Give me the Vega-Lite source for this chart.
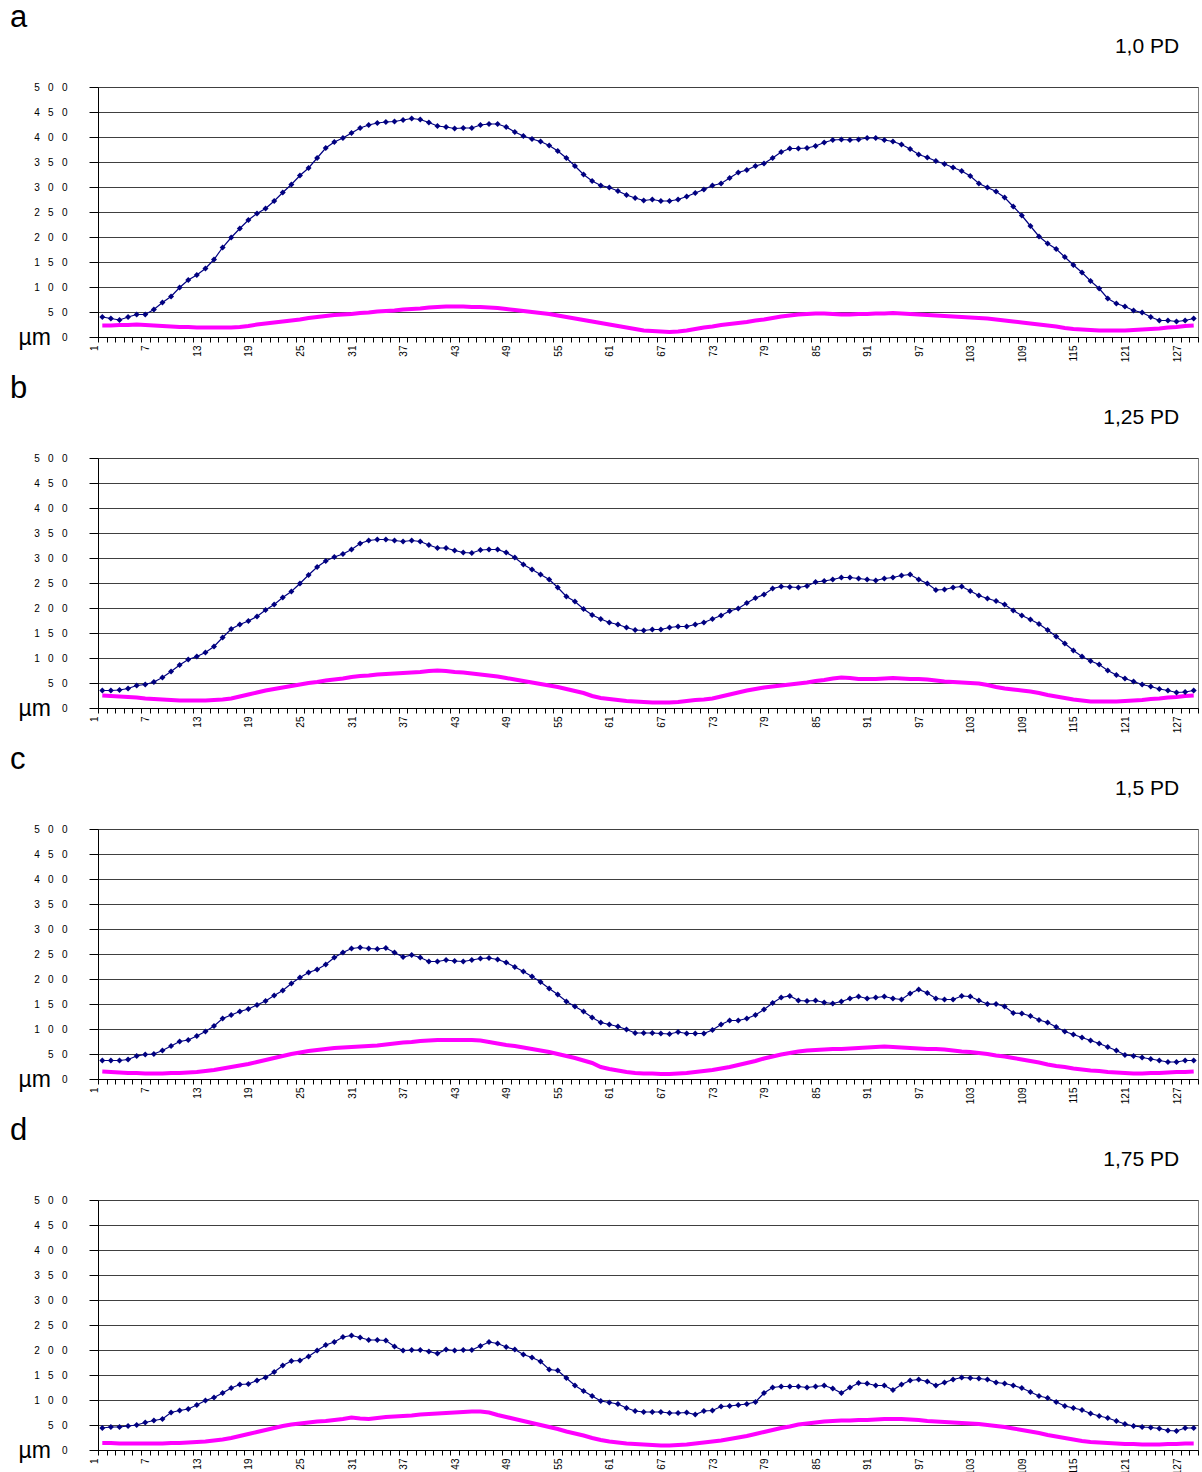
{
"$schema":"https://vega.github.io/schema/vega-lite/v6.json",
"padding":{"left":9,"top":1,"right":5,"bottom":0},
"spacing":9,
"config":{"font":"Liberation Sans","view":{"stroke":"#808080"},
"title":{"fontSize":31,"fontWeight":"normal","anchor":"start","frame":"bounds","dx":-8,"offset":2,"color":"#000"},
"axisX":{"title":null,"labelAngle":270,"labelExpr":"(datum.value - 1) % 6 == 0 ? datum.label : ''","labelOverlap":false,"labelFontSize":10,"labelPadding":3,"labelOffset":-8,"tickSize":5,"tickBand":"extent","tickColor":"#000","domainColor":"#000","labelColor":"#000","grid":false},
"axisY":{"titleAngle":0,"titleFontSize":23,"titleFontWeight":"normal","titleColor":"#000","titleAlign":"left","titleBaseline":"alphabetic","titleX":-80,"titleY":257,"labelExpr":"join(split(datum.label,''),'\u00a0\u00a0\u00a0')","labelFontSize":10,"labelPadding":22,"tickSize":9,"grid":true,"gridColor":"#404040","gridOpacity":1,"tickColor":"#000","domainColor":"#000","labelColor":"#000","labelOverlap":false}},
"datasets":{
"a":[{"i":1,"b":40,"m":23},{"i":2,"b":37,"m":23},{"i":3,"b":34,"m":24},{"i":4,"b":40,"m":24},{"i":5,"b":45,"m":25},{"i":6,"b":45,"m":24},{"i":7,"b":55,"m":23},{"i":8,"b":69,"m":22},{"i":9,"b":81,"m":21},{"i":10,"b":99,"m":20},{"i":11,"b":114,"m":20},{"i":12,"b":124,"m":19},{"i":13,"b":137,"m":19},{"i":14,"b":155,"m":19},{"i":15,"b":179,"m":19},{"i":16,"b":199,"m":19},{"i":17,"b":217,"m":20},{"i":18,"b":234,"m":22},{"i":19,"b":247,"m":25},{"i":20,"b":257,"m":27},{"i":21,"b":272,"m":29},{"i":22,"b":289,"m":31},{"i":23,"b":305,"m":33},{"i":24,"b":323,"m":35},{"i":25,"b":338,"m":38},{"i":26,"b":358,"m":40},{"i":27,"b":378,"m":42},{"i":28,"b":390,"m":44},{"i":29,"b":398,"m":45},{"i":30,"b":408,"m":46},{"i":31,"b":418,"m":48},{"i":32,"b":424,"m":49},{"i":33,"b":428,"m":51},{"i":34,"b":430,"m":52},{"i":35,"b":431,"m":53},{"i":36,"b":434,"m":55},{"i":37,"b":437,"m":56},{"i":38,"b":435,"m":57},{"i":39,"b":429,"m":59},{"i":40,"b":422,"m":60},{"i":41,"b":420,"m":61},{"i":42,"b":417,"m":61},{"i":43,"b":418,"m":61},{"i":44,"b":418,"m":60},{"i":45,"b":424,"m":60},{"i":46,"b":426,"m":59},{"i":47,"b":426,"m":58},{"i":48,"b":420,"m":56},{"i":49,"b":410,"m":54},{"i":50,"b":402,"m":52},{"i":51,"b":396,"m":50},{"i":52,"b":391,"m":48},{"i":53,"b":383,"m":46},{"i":54,"b":372,"m":43},{"i":55,"b":358,"m":40},{"i":56,"b":342,"m":37},{"i":57,"b":325,"m":34},{"i":58,"b":312,"m":31},{"i":59,"b":303,"m":28},{"i":60,"b":299,"m":25},{"i":61,"b":292,"m":22},{"i":62,"b":284,"m":19},{"i":63,"b":278,"m":16},{"i":64,"b":273,"m":13},{"i":65,"b":275,"m":12},{"i":66,"b":272,"m":11},{"i":67,"b":272,"m":10},{"i":68,"b":275,"m":11},{"i":69,"b":281,"m":13},{"i":70,"b":288,"m":16},{"i":71,"b":295,"m":19},{"i":72,"b":303,"m":21},{"i":73,"b":307,"m":24},{"i":74,"b":318,"m":26},{"i":75,"b":329,"m":28},{"i":76,"b":334,"m":30},{"i":77,"b":342,"m":33},{"i":78,"b":347,"m":35},{"i":79,"b":358,"m":38},{"i":80,"b":370,"m":41},{"i":81,"b":377,"m":43},{"i":82,"b":377,"m":45},{"i":83,"b":378,"m":46},{"i":84,"b":382,"m":47},{"i":85,"b":389,"m":47},{"i":86,"b":394,"m":46},{"i":87,"b":395,"m":45},{"i":88,"b":394,"m":45},{"i":89,"b":395,"m":46},{"i":90,"b":398,"m":46},{"i":91,"b":398,"m":47},{"i":92,"b":394,"m":47},{"i":93,"b":391,"m":48},{"i":94,"b":385,"m":47},{"i":95,"b":376,"m":46},{"i":96,"b":365,"m":45},{"i":97,"b":359,"m":44},{"i":98,"b":352,"m":43},{"i":99,"b":346,"m":42},{"i":100,"b":339,"m":41},{"i":101,"b":332,"m":40},{"i":102,"b":322,"m":39},{"i":103,"b":307,"m":38},{"i":104,"b":299,"m":37},{"i":105,"b":291,"m":35},{"i":106,"b":279,"m":33},{"i":107,"b":261,"m":31},{"i":108,"b":243,"m":29},{"i":109,"b":222,"m":27},{"i":110,"b":201,"m":25},{"i":111,"b":187,"m":23},{"i":112,"b":176,"m":21},{"i":113,"b":160,"m":18},{"i":114,"b":144,"m":16},{"i":115,"b":129,"m":15},{"i":116,"b":112,"m":14},{"i":117,"b":97,"m":13},{"i":118,"b":77,"m":13},{"i":119,"b":67,"m":13},{"i":120,"b":61,"m":13},{"i":121,"b":53,"m":14},{"i":122,"b":49,"m":15},{"i":123,"b":40,"m":16},{"i":124,"b":33,"m":17},{"i":125,"b":33,"m":19},{"i":126,"b":31,"m":20},{"i":127,"b":33,"m":22},{"i":128,"b":37,"m":23}],
"b":[{"i":1,"b":35,"m":25},{"i":2,"b":35,"m":24},{"i":3,"b":36,"m":23},{"i":4,"b":39,"m":22},{"i":5,"b":45,"m":21},{"i":6,"b":47,"m":19},{"i":7,"b":52,"m":18},{"i":8,"b":61,"m":17},{"i":9,"b":73,"m":16},{"i":10,"b":86,"m":15},{"i":11,"b":97,"m":15},{"i":12,"b":103,"m":15},{"i":13,"b":111,"m":15},{"i":14,"b":123,"m":16},{"i":15,"b":141,"m":17},{"i":16,"b":158,"m":19},{"i":17,"b":167,"m":23},{"i":18,"b":174,"m":27},{"i":19,"b":183,"m":31},{"i":20,"b":196,"m":35},{"i":21,"b":207,"m":38},{"i":22,"b":221,"m":41},{"i":23,"b":233,"m":44},{"i":24,"b":249,"m":47},{"i":25,"b":266,"m":50},{"i":26,"b":282,"m":52},{"i":27,"b":294,"m":55},{"i":28,"b":302,"m":57},{"i":29,"b":308,"m":59},{"i":30,"b":317,"m":62},{"i":31,"b":329,"m":64},{"i":32,"b":335,"m":65},{"i":33,"b":337,"m":67},{"i":34,"b":337,"m":68},{"i":35,"b":335,"m":69},{"i":36,"b":333,"m":70},{"i":37,"b":335,"m":71},{"i":38,"b":333,"m":72},{"i":39,"b":326,"m":74},{"i":40,"b":320,"m":75},{"i":41,"b":320,"m":74},{"i":42,"b":315,"m":72},{"i":43,"b":311,"m":71},{"i":44,"b":310,"m":69},{"i":45,"b":316,"m":67},{"i":46,"b":317,"m":65},{"i":47,"b":317,"m":63},{"i":48,"b":311,"m":60},{"i":49,"b":301,"m":57},{"i":50,"b":287,"m":54},{"i":51,"b":277,"m":51},{"i":52,"b":267,"m":48},{"i":53,"b":257,"m":45},{"i":54,"b":241,"m":42},{"i":55,"b":223,"m":38},{"i":56,"b":213,"m":34},{"i":57,"b":198,"m":30},{"i":58,"b":186,"m":24},{"i":59,"b":178,"m":20},{"i":60,"b":171,"m":18},{"i":61,"b":167,"m":16},{"i":62,"b":161,"m":14},{"i":63,"b":156,"m":13},{"i":64,"b":155,"m":12},{"i":65,"b":157,"m":11},{"i":66,"b":157,"m":11},{"i":67,"b":161,"m":11},{"i":68,"b":163,"m":12},{"i":69,"b":163,"m":14},{"i":70,"b":167,"m":16},{"i":71,"b":171,"m":17},{"i":72,"b":178,"m":19},{"i":73,"b":185,"m":23},{"i":74,"b":194,"m":27},{"i":75,"b":199,"m":31},{"i":76,"b":210,"m":35},{"i":77,"b":220,"m":38},{"i":78,"b":227,"m":41},{"i":79,"b":239,"m":43},{"i":80,"b":243,"m":45},{"i":81,"b":242,"m":47},{"i":82,"b":241,"m":49},{"i":83,"b":244,"m":51},{"i":84,"b":252,"m":54},{"i":85,"b":254,"m":56},{"i":86,"b":257,"m":59},{"i":87,"b":261,"m":61},{"i":88,"b":261,"m":60},{"i":89,"b":259,"m":58},{"i":90,"b":257,"m":58},{"i":91,"b":255,"m":58},{"i":92,"b":259,"m":59},{"i":93,"b":261,"m":60},{"i":94,"b":265,"m":59},{"i":95,"b":267,"m":58},{"i":96,"b":257,"m":58},{"i":97,"b":249,"m":57},{"i":98,"b":236,"m":55},{"i":99,"b":237,"m":53},{"i":100,"b":241,"m":52},{"i":101,"b":243,"m":51},{"i":102,"b":234,"m":50},{"i":103,"b":225,"m":49},{"i":104,"b":219,"m":46},{"i":105,"b":214,"m":42},{"i":106,"b":207,"m":39},{"i":107,"b":195,"m":37},{"i":108,"b":185,"m":35},{"i":109,"b":177,"m":33},{"i":110,"b":168,"m":30},{"i":111,"b":156,"m":26},{"i":112,"b":143,"m":23},{"i":113,"b":129,"m":20},{"i":114,"b":115,"m":17},{"i":115,"b":103,"m":15},{"i":116,"b":94,"m":13},{"i":117,"b":87,"m":13},{"i":118,"b":75,"m":13},{"i":119,"b":66,"m":13},{"i":120,"b":59,"m":14},{"i":121,"b":53,"m":15},{"i":122,"b":47,"m":16},{"i":123,"b":43,"m":18},{"i":124,"b":38,"m":19},{"i":125,"b":35,"m":21},{"i":126,"b":31,"m":22},{"i":127,"b":32,"m":24},{"i":128,"b":35,"m":25}],
"c":[{"i":1,"b":37,"m":15},{"i":2,"b":37,"m":14},{"i":3,"b":37,"m":13},{"i":4,"b":39,"m":12},{"i":5,"b":46,"m":12},{"i":6,"b":49,"m":11},{"i":7,"b":50,"m":11},{"i":8,"b":57,"m":11},{"i":9,"b":66,"m":12},{"i":10,"b":75,"m":12},{"i":11,"b":78,"m":13},{"i":12,"b":86,"m":14},{"i":13,"b":95,"m":16},{"i":14,"b":106,"m":18},{"i":15,"b":121,"m":21},{"i":16,"b":128,"m":24},{"i":17,"b":135,"m":27},{"i":18,"b":140,"m":30},{"i":19,"b":148,"m":34},{"i":20,"b":156,"m":38},{"i":21,"b":167,"m":42},{"i":22,"b":177,"m":46},{"i":23,"b":191,"m":50},{"i":24,"b":203,"m":53},{"i":25,"b":213,"m":56},{"i":26,"b":219,"m":58},{"i":27,"b":229,"m":60},{"i":28,"b":243,"m":62},{"i":29,"b":253,"m":63},{"i":30,"b":261,"m":64},{"i":31,"b":263,"m":65},{"i":32,"b":261,"m":66},{"i":33,"b":260,"m":67},{"i":34,"b":262,"m":69},{"i":35,"b":253,"m":71},{"i":36,"b":244,"m":73},{"i":37,"b":248,"m":74},{"i":38,"b":243,"m":76},{"i":39,"b":235,"m":77},{"i":40,"b":235,"m":78},{"i":41,"b":238,"m":78},{"i":42,"b":236,"m":78},{"i":43,"b":235,"m":78},{"i":44,"b":238,"m":78},{"i":45,"b":241,"m":77},{"i":46,"b":242,"m":74},{"i":47,"b":239,"m":71},{"i":48,"b":233,"m":68},{"i":49,"b":224,"m":66},{"i":50,"b":215,"m":63},{"i":51,"b":205,"m":60},{"i":52,"b":194,"m":57},{"i":53,"b":181,"m":54},{"i":54,"b":169,"m":50},{"i":55,"b":155,"m":46},{"i":56,"b":145,"m":42},{"i":57,"b":135,"m":37},{"i":58,"b":123,"m":32},{"i":59,"b":113,"m":24},{"i":60,"b":109,"m":20},{"i":61,"b":105,"m":17},{"i":62,"b":99,"m":14},{"i":63,"b":92,"m":12},{"i":64,"b":92,"m":11},{"i":65,"b":92,"m":11},{"i":66,"b":91,"m":10},{"i":67,"b":90,"m":10},{"i":68,"b":94,"m":11},{"i":69,"b":91,"m":12},{"i":70,"b":91,"m":14},{"i":71,"b":91,"m":16},{"i":72,"b":98,"m":18},{"i":73,"b":109,"m":21},{"i":74,"b":117,"m":24},{"i":75,"b":117,"m":28},{"i":76,"b":121,"m":32},{"i":77,"b":128,"m":36},{"i":78,"b":139,"m":41},{"i":79,"b":152,"m":45},{"i":80,"b":163,"m":49},{"i":81,"b":166,"m":52},{"i":82,"b":157,"m":55},{"i":83,"b":156,"m":57},{"i":84,"b":157,"m":58},{"i":85,"b":153,"m":59},{"i":86,"b":151,"m":60},{"i":87,"b":155,"m":60},{"i":88,"b":161,"m":61},{"i":89,"b":165,"m":62},{"i":90,"b":161,"m":63},{"i":91,"b":163,"m":64},{"i":92,"b":165,"m":65},{"i":93,"b":161,"m":64},{"i":94,"b":159,"m":63},{"i":95,"b":171,"m":62},{"i":96,"b":179,"m":61},{"i":97,"b":172,"m":60},{"i":98,"b":161,"m":60},{"i":99,"b":159,"m":59},{"i":100,"b":159,"m":57},{"i":101,"b":166,"m":55},{"i":102,"b":165,"m":54},{"i":103,"b":157,"m":52},{"i":104,"b":150,"m":50},{"i":105,"b":150,"m":47},{"i":106,"b":145,"m":45},{"i":107,"b":132,"m":42},{"i":108,"b":131,"m":39},{"i":109,"b":126,"m":36},{"i":110,"b":118,"m":33},{"i":111,"b":113,"m":29},{"i":112,"b":104,"m":26},{"i":113,"b":95,"m":24},{"i":114,"b":89,"m":21},{"i":115,"b":83,"m":19},{"i":116,"b":77,"m":17},{"i":117,"b":71,"m":16},{"i":118,"b":64,"m":14},{"i":119,"b":57,"m":13},{"i":120,"b":48,"m":12},{"i":121,"b":46,"m":11},{"i":122,"b":43,"m":11},{"i":123,"b":40,"m":12},{"i":124,"b":37,"m":12},{"i":125,"b":34,"m":13},{"i":126,"b":34,"m":14},{"i":127,"b":37,"m":14},{"i":128,"b":37,"m":15}],
"d":[{"i":1,"b":44,"m":14},{"i":2,"b":46,"m":14},{"i":3,"b":46,"m":13},{"i":4,"b":48,"m":13},{"i":5,"b":50,"m":13},{"i":6,"b":55,"m":13},{"i":7,"b":59,"m":13},{"i":8,"b":62,"m":13},{"i":9,"b":75,"m":14},{"i":10,"b":79,"m":14},{"i":11,"b":82,"m":15},{"i":12,"b":90,"m":16},{"i":13,"b":99,"m":17},{"i":14,"b":105,"m":19},{"i":15,"b":114,"m":21},{"i":16,"b":124,"m":24},{"i":17,"b":131,"m":28},{"i":18,"b":132,"m":32},{"i":19,"b":139,"m":36},{"i":20,"b":145,"m":40},{"i":21,"b":156,"m":44},{"i":22,"b":169,"m":48},{"i":23,"b":178,"m":51},{"i":24,"b":179,"m":53},{"i":25,"b":187,"m":55},{"i":26,"b":199,"m":57},{"i":27,"b":210,"m":58},{"i":28,"b":216,"m":60},{"i":29,"b":226,"m":62},{"i":30,"b":229,"m":65},{"i":31,"b":225,"m":63},{"i":32,"b":220,"m":62},{"i":33,"b":220,"m":64},{"i":34,"b":219,"m":66},{"i":35,"b":207,"m":67},{"i":36,"b":199,"m":68},{"i":37,"b":200,"m":69},{"i":38,"b":200,"m":71},{"i":39,"b":197,"m":72},{"i":40,"b":193,"m":73},{"i":41,"b":201,"m":74},{"i":42,"b":199,"m":75},{"i":43,"b":200,"m":76},{"i":44,"b":200,"m":77},{"i":45,"b":208,"m":77},{"i":46,"b":216,"m":75},{"i":47,"b":213,"m":70},{"i":48,"b":206,"m":66},{"i":49,"b":201,"m":62},{"i":50,"b":191,"m":58},{"i":51,"b":185,"m":54},{"i":52,"b":177,"m":50},{"i":53,"b":161,"m":46},{"i":54,"b":159,"m":42},{"i":55,"b":144,"m":37},{"i":56,"b":129,"m":33},{"i":57,"b":118,"m":29},{"i":58,"b":108,"m":24},{"i":59,"b":98,"m":20},{"i":60,"b":95,"m":17},{"i":61,"b":92,"m":15},{"i":62,"b":84,"m":13},{"i":63,"b":78,"m":12},{"i":64,"b":76,"m":11},{"i":65,"b":76,"m":10},{"i":66,"b":76,"m":9},{"i":67,"b":74,"m":9},{"i":68,"b":74,"m":10},{"i":69,"b":75,"m":11},{"i":70,"b":71,"m":13},{"i":71,"b":78,"m":15},{"i":72,"b":79,"m":17},{"i":73,"b":87,"m":19},{"i":74,"b":88,"m":22},{"i":75,"b":90,"m":25},{"i":76,"b":92,"m":28},{"i":77,"b":96,"m":32},{"i":78,"b":114,"m":36},{"i":79,"b":125,"m":40},{"i":80,"b":127,"m":44},{"i":81,"b":127,"m":47},{"i":82,"b":127,"m":51},{"i":83,"b":125,"m":53},{"i":84,"b":127,"m":55},{"i":85,"b":129,"m":57},{"i":86,"b":123,"m":58},{"i":87,"b":114,"m":59},{"i":88,"b":125,"m":59},{"i":89,"b":134,"m":60},{"i":90,"b":133,"m":60},{"i":91,"b":129,"m":61},{"i":92,"b":129,"m":62},{"i":93,"b":120,"m":62},{"i":94,"b":131,"m":62},{"i":95,"b":139,"m":61},{"i":96,"b":141,"m":60},{"i":97,"b":137,"m":58},{"i":98,"b":129,"m":57},{"i":99,"b":135,"m":56},{"i":100,"b":141,"m":55},{"i":101,"b":145,"m":54},{"i":102,"b":144,"m":53},{"i":103,"b":143,"m":52},{"i":104,"b":141,"m":50},{"i":105,"b":135,"m":48},{"i":106,"b":133,"m":46},{"i":107,"b":129,"m":43},{"i":108,"b":124,"m":40},{"i":109,"b":116,"m":37},{"i":110,"b":108,"m":34},{"i":111,"b":104,"m":30},{"i":112,"b":96,"m":27},{"i":113,"b":88,"m":24},{"i":114,"b":84,"m":21},{"i":115,"b":80,"m":18},{"i":116,"b":73,"m":16},{"i":117,"b":68,"m":15},{"i":118,"b":64,"m":14},{"i":119,"b":58,"m":13},{"i":120,"b":52,"m":12},{"i":121,"b":48,"m":12},{"i":122,"b":46,"m":11},{"i":123,"b":45,"m":11},{"i":124,"b":43,"m":11},{"i":125,"b":39,"m":12},{"i":126,"b":38,"m":12},{"i":127,"b":44,"m":13},{"i":128,"b":44,"m":13}]
},
"vconcat":[
{"title":{"text":"a"},"width":1100,"height":250,"layer":[
{"data":{"name":"a"},"mark":{"type":"line","color":"#FF00FF","strokeWidth":4},"encoding":{"x":{"field":"i","type":"ordinal","scale":{"type":"band","paddingInner":0,"paddingOuter":0}},"y":{"field":"m","type":"quantitative","scale":{"domain":[0,500],"nice":false},"axis":{"title":"µm","values":[0,50,100,150,200,250,300,350,400,450,500]}}}},
{"data":{"name":"a"},"mark":{"type":"line","color":"#000080","strokeWidth":1.2,"point":{"shape":"diamond","filled":true,"size":36,"color":"#000080"}},"encoding":{"x":{"field":"i","type":"ordinal"},"y":{"field":"b","type":"quantitative","axis":{"title":"µm","values":[0,50,100,150,200,250,300,350,400,450,500]}}}},
{"data":{"values":[{"t":"1,0 PD"}]},"mark":{"type":"text","align":"right","baseline":"alphabetic","fontSize":21,"dx":-6,"color":"#000"},"encoding":{"x":{"datum":127,"type":"ordinal"},"y":{"datum":568,"type":"quantitative","axis":{"title":"µm","values":[0,50,100,150,200,250,300,350,400,450,500]}},"text":{"field":"t"}}}
]},
{"title":{"text":"b"},"width":1100,"height":250,"layer":[
{"data":{"name":"b"},"mark":{"type":"line","color":"#FF00FF","strokeWidth":4},"encoding":{"x":{"field":"i","type":"ordinal","scale":{"type":"band","paddingInner":0,"paddingOuter":0}},"y":{"field":"m","type":"quantitative","scale":{"domain":[0,500],"nice":false},"axis":{"title":"µm","values":[0,50,100,150,200,250,300,350,400,450,500]}}}},
{"data":{"name":"b"},"mark":{"type":"line","color":"#000080","strokeWidth":1.2,"point":{"shape":"diamond","filled":true,"size":36,"color":"#000080"}},"encoding":{"x":{"field":"i","type":"ordinal"},"y":{"field":"b","type":"quantitative","axis":{"title":"µm","values":[0,50,100,150,200,250,300,350,400,450,500]}}}},
{"data":{"values":[{"t":"1,25 PD"}]},"mark":{"type":"text","align":"right","baseline":"alphabetic","fontSize":21,"dx":-6,"color":"#000"},"encoding":{"x":{"datum":127,"type":"ordinal"},"y":{"datum":568,"type":"quantitative","axis":{"title":"µm","values":[0,50,100,150,200,250,300,350,400,450,500]}},"text":{"field":"t"}}}
]},
{"title":{"text":"c"},"width":1100,"height":250,"layer":[
{"data":{"name":"c"},"mark":{"type":"line","color":"#FF00FF","strokeWidth":4},"encoding":{"x":{"field":"i","type":"ordinal","scale":{"type":"band","paddingInner":0,"paddingOuter":0}},"y":{"field":"m","type":"quantitative","scale":{"domain":[0,500],"nice":false},"axis":{"title":"µm","values":[0,50,100,150,200,250,300,350,400,450,500]}}}},
{"data":{"name":"c"},"mark":{"type":"line","color":"#000080","strokeWidth":1.2,"point":{"shape":"diamond","filled":true,"size":36,"color":"#000080"}},"encoding":{"x":{"field":"i","type":"ordinal"},"y":{"field":"b","type":"quantitative","axis":{"title":"µm","values":[0,50,100,150,200,250,300,350,400,450,500]}}}},
{"data":{"values":[{"t":"1,5 PD"}]},"mark":{"type":"text","align":"right","baseline":"alphabetic","fontSize":21,"dx":-6,"color":"#000"},"encoding":{"x":{"datum":127,"type":"ordinal"},"y":{"datum":568,"type":"quantitative","axis":{"title":"µm","values":[0,50,100,150,200,250,300,350,400,450,500]}},"text":{"field":"t"}}}
]},
{"title":{"text":"d"},"width":1100,"height":250,"layer":[
{"data":{"name":"d"},"mark":{"type":"line","color":"#FF00FF","strokeWidth":4},"encoding":{"x":{"field":"i","type":"ordinal","scale":{"type":"band","paddingInner":0,"paddingOuter":0}},"y":{"field":"m","type":"quantitative","scale":{"domain":[0,500],"nice":false},"axis":{"title":"µm","values":[0,50,100,150,200,250,300,350,400,450,500]}}}},
{"data":{"name":"d"},"mark":{"type":"line","color":"#000080","strokeWidth":1.2,"point":{"shape":"diamond","filled":true,"size":36,"color":"#000080"}},"encoding":{"x":{"field":"i","type":"ordinal"},"y":{"field":"b","type":"quantitative","axis":{"title":"µm","values":[0,50,100,150,200,250,300,350,400,450,500]}}}},
{"data":{"values":[{"t":"1,75 PD"}]},"mark":{"type":"text","align":"right","baseline":"alphabetic","fontSize":21,"dx":-6,"color":"#000"},"encoding":{"x":{"datum":127,"type":"ordinal"},"y":{"datum":568,"type":"quantitative","axis":{"title":"µm","values":[0,50,100,150,200,250,300,350,400,450,500]}},"text":{"field":"t"}}}
]}
]
}
